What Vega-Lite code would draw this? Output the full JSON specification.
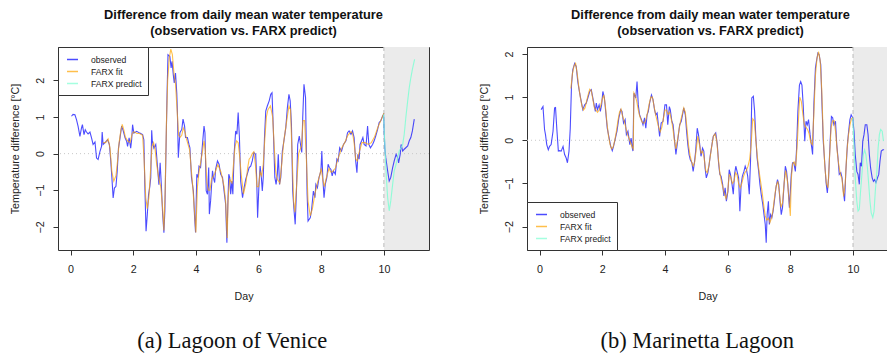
{
"$schema": "https://vega.github.io/schema/vega-lite/v6.json",
"background": "white",
"padding": {"left": 8, "top": 8, "right": 0, "bottom": 0},
"config": {
 "view": {"stroke": "#333", "strokeWidth": 1},
 "axis": {"domain": false, "grid": false, "tickColor": "#333", "tickSize": 5, "labelFont": "Liberation Sans", "labelFontSize": 10.7, "labelColor": "#222", "titleFont": "Liberation Sans", "titleFontSize": 10.7, "titleFontWeight": "normal", "titleColor": "#222"},
 "title": {"font": "Liberation Sans"}
},
"datasets": {
 "shade": [{"x0": 10, "x1": 12, "y0": 0}],
 "a_obs": [
 {"d":0.03,"v":1.02},{"d":0.08,"v":1.07},{"d":0.14,"v":1.06},{"d":0.19,"v":0.93},{"d":0.24,"v":0.75},{"d":0.30,"v":0.47},{"d":0.35,"v":0.70},{"d":0.38,"v":0.79},{"d":0.43,"v":0.52},{"d":0.47,"v":0.65},{"d":0.51,"v":0.59},{"d":0.56,"v":0.54},{"d":0.62,"v":0.59},{"d":0.67,"v":0.43},{"d":0.72,"v":0.25},{"d":0.78,"v":0.32},{"d":0.83,"v":-0.12},{"d":0.88,"v":-0.16},{"d":0.94,"v":0.06},{"d":0.99,"v":0.20},{"d":1.01,"v":0.59},{"d":1.04,"v":0.25},{"d":1.12,"v":0.32},{"d":1.18,"v":0.38},{"d":1.24,"v":0.25},{"d":1.28,"v":-0.16},{"d":1.32,"v":-0.66},{"d":1.36,"v":-1.21},{"d":1.40,"v":-0.94},{"d":1.45,"v":-0.89},{"d":1.49,"v":-0.48},{"d":1.53,"v":0.15},{"d":1.58,"v":0.43},{"d":1.63,"v":0.75},{"d":1.68,"v":0.63},{"d":1.74,"v":0.43},{"d":1.79,"v":0.34},{"d":1.82,"v":0.20},{"d":1.87,"v":0.43},{"d":1.92,"v":0.15},{"d":1.95,"v":0.38},{"d":1.98,"v":0.79},{"d":2.02,"v":0.56},{"d":2.11,"v":0.61},{"d":2.21,"v":0.56},{"d":2.30,"v":0.52},{"d":2.34,"v":0.38},{"d":2.37,"v":-0.85},{"d":2.41,"v":-2.12},{"d":2.45,"v":-1.66},{"d":2.49,"v":-1.12},{"d":2.53,"v":-0.9},{"d":2.56,"v":-0.66},{"d":2.59,"v":0.64},{"d":2.61,"v":0.34},{"d":2.66,"v":0.15},{"d":2.72,"v":0.25},{"d":2.77,"v":-0.30},{"d":2.82,"v":-0.85},{"d":2.86,"v":-0.25},{"d":2.90,"v":-0.9},{"d":2.94,"v":-1.66},{"d":2.98,"v":-2.16},{"d":3.01,"v":-1.57},{"d":3.05,"v":0.25},{"d":3.08,"v":1.61},{"d":3.11,"v":2.70},{"d":3.17,"v":2.65},{"d":3.21,"v":2.34},{"d":3.24,"v":2.52},{"d":3.28,"v":2.15},{"d":3.31,"v":1.93},{"d":3.35,"v":2.2},{"d":3.39,"v":1.66},{"d":3.41,"v":1.15},{"d":3.44,"v":-0.11},{"d":3.49,"v":0.57},{"d":3.55,"v":0.66},{"d":3.59,"v":0.94},{"d":3.64,"v":0.75},{"d":3.67,"v":0.44},{"d":3.73,"v":0.44},{"d":3.78,"v":0.25},{"d":3.81,"v":0.16},{"d":3.86,"v":-0.65},{"d":3.92,"v":-1.02},{"d":3.96,"v":-1.75},{"d":3.99,"v":-2.15},{"d":4.03,"v":-0.56},{"d":4.07,"v":-0.65},{"d":4.10,"v":-0.34},{"d":4.15,"v":-0.38},{"d":4.21,"v":0.25},{"d":4.26,"v":0.75},{"d":4.29,"v":0.57},{"d":4.33,"v":-1.02},{"d":4.37,"v":-1.11},{"d":4.41,"v":-0.38},{"d":4.43,"v":-1.65},{"d":4.47,"v":-1.29},{"d":4.53,"v":-0.47},{"d":4.56,"v":-0.65},{"d":4.60,"v":-0.79},{"d":4.63,"v":-0.43},{"d":4.69,"v":-0.2},{"d":4.74,"v":-0.29},{"d":4.79,"v":-0.56},{"d":4.85,"v":-0.65},{"d":4.90,"v":-1.02},{"d":4.95,"v":-1.38},{"d":4.99,"v":-2.43},{"d":5.02,"v":-1.38},{"d":5.05,"v":-0.56},{"d":5.08,"v":-0.65},{"d":5.11,"v":-1.11},{"d":5.15,"v":-0.75},{"d":5.18,"v":-1.11},{"d":5.22,"v":-0.02},{"d":5.27,"v":0.62},{"d":5.31,"v":0.53},{"d":5.35,"v":1.12},{"d":5.39,"v":0.44},{"d":5.43,"v":-0.75},{"d":5.49,"v":-1.2},{"d":5.54,"v":-0.93},{"d":5.59,"v":-0.7},{"d":5.64,"v":-0.56},{"d":5.70,"v":-0.38},{"d":5.75,"v":-0.34},{"d":5.80,"v":-0.2},{"d":5.85,"v":0.03},{"d":5.91,"v":-0.02},{"d":5.94,"v":-0.65},{"d":5.97,"v":-1.75},{"d":6.01,"v":-0.93},{"d":6.05,"v":-0.34},{"d":6.09,"v":-0.65},{"d":6.12,"v":-1.02},{"d":6.15,"v":-0.65},{"d":6.19,"v":0.44},{"d":6.23,"v":1.16},{"d":6.28,"v":1.3},{"d":6.34,"v":1.44},{"d":6.39,"v":1.62},{"d":6.43,"v":1.66},{"d":6.47,"v":0.71},{"d":6.52,"v":-0.65},{"d":6.56,"v":-0.84},{"d":6.60,"v":-0.56},{"d":6.63,"v":-0.02},{"d":6.67,"v":-0.84},{"d":6.71,"v":-0.65},{"d":6.76,"v":0.07},{"d":6.81,"v":0.35},{"d":6.87,"v":0.71},{"d":6.92,"v":1.25},{"d":6.97,"v":1.62},{"d":7.01,"v":1.44},{"d":7.05,"v":0.8},{"d":7.09,"v":-1.02},{"d":7.13,"v":-1.52},{"d":7.17,"v":-1.93},{"d":7.21,"v":-1.02},{"d":7.25,"v":0.25},{"d":7.30,"v":0.48},{"d":7.34,"v":0.25},{"d":7.38,"v":0.03},{"d":7.41,"v":0.98},{"d":7.45,"v":1.89},{"d":7.50,"v":1.53},{"d":7.52,"v":0.4},{"d":7.55,"v":-1.1},{"d":7.58,"v":-1.84},{"d":7.65,"v":-1.75},{"d":7.69,"v":-1.56},{"d":7.75,"v":-1.02},{"d":7.80,"v":-1.2},{"d":7.83,"v":-0.84},{"d":7.88,"v":-0.93},{"d":7.93,"v":-0.65},{"d":7.99,"v":-0.47},{"d":8.02,"v":0.07},{"d":8.05,"v":-0.65},{"d":8.09,"v":-1.2},{"d":8.13,"v":-0.84},{"d":8.18,"v":-0.65},{"d":8.22,"v":-0.29},{"d":8.26,"v":-0.38},{"d":8.31,"v":-0.43},{"d":8.35,"v":-0.61},{"d":8.39,"v":-0.47},{"d":8.45,"v":-0.56},{"d":8.50,"v":-0.15},{"d":8.54,"v":-0.2},{"d":8.59,"v":0.16},{"d":8.65,"v":0.07},{"d":8.71,"v":0.25},{"d":8.79,"v":0.35},{"d":8.84,"v":0.57},{"d":8.89,"v":0.62},{"d":8.95,"v":0.53},{"d":9.00,"v":0.62},{"d":9.05,"v":0.44},{"d":9.10,"v":-0.2},{"d":9.14,"v":-0.52},{"d":9.17,"v":-0.02},{"d":9.21,"v":-0.15},{"d":9.24,"v":0.25},{"d":9.29,"v":0.35},{"d":9.33,"v":0.44},{"d":9.37,"v":0.25},{"d":9.43,"v":0.21},{"d":9.48,"v":0.75},{"d":9.52,"v":0.25},{"d":9.57,"v":0.16},{"d":9.64,"v":0.25},{"d":9.69,"v":0.35},{"d":9.74,"v":0.48},{"d":9.80,"v":0.66},{"d":9.85,"v":0.85},{"d":9.90,"v":0.89},{"d":9.96,"v":1.03},{"d":9.99,"v":1.07},{"d":10.03,"v":0.16},{"d":10.06,"v":-0.11},{"d":10.12,"v":-0.47},{"d":10.17,"v":-0.75},{"d":10.22,"v":-0.65},{"d":10.28,"v":-0.38},{"d":10.33,"v":-0.2},{"d":10.39,"v":-0.02},{"d":10.44,"v":-0.11},{"d":10.47,"v":-0.25},{"d":10.52,"v":-0.02},{"d":10.55,"v":0.25},{"d":10.60,"v":0.07},{"d":10.65,"v":0.12},{"d":10.70,"v":0.16},{"d":10.76,"v":0.21},{"d":10.81,"v":0.35},{"d":10.86,"v":0.44},{"d":10.91,"v":0.62},{"d":10.97,"v":0.94}
 ],
 "a_fit": [
 {"d":1.04,"v":0.3},{"d":1.12,"v":0.3},{"d":1.2,"v":0.4},{"d":1.26,"v":0.15},{"d":1.32,"v":-0.5},{"d":1.38,"v":-0.75},{"d":1.45,"v":-0.6},{"d":1.5,"v":-0.2},{"d":1.55,"v":0.3},{"d":1.6,"v":0.6},{"d":1.65,"v":0.8},{"d":1.7,"v":0.65},{"d":1.75,"v":0.45},{"d":1.82,"v":0.35},{"d":1.9,"v":0.3},{"d":1.97,"v":0.55},{"d":2.02,"v":0.6},{"d":2.12,"v":0.55},{"d":2.2,"v":0.55},{"d":2.3,"v":0.5},{"d":2.35,"v":-0.2},{"d":2.4,"v":-1.2},{"d":2.45,"v":-1.5},{"d":2.5,"v":-1.2},{"d":2.55,"v":-0.5},{"d":2.6,"v":0.2},{"d":2.65,"v":0.3},{"d":2.7,"v":0.1},{"d":2.75,"v":-0.3},{"d":2.82,"v":-0.7},{"d":2.88,"v":-0.9},{"d":2.94,"v":-1.5},{"d":2.98,"v":-2.1},{"d":3.02,"v":-1.0},{"d":3.06,"v":0.8},{"d":3.1,"v":2.0},{"d":3.15,"v":2.6},{"d":3.2,"v":2.85},{"d":3.25,"v":2.7},{"d":3.3,"v":2.2},{"d":3.35,"v":1.9},{"d":3.4,"v":1.2},{"d":3.45,"v":0.5},{"d":3.5,"v":0.45},{"d":3.55,"v":0.5},{"d":3.6,"v":0.7},{"d":3.65,"v":0.6},{"d":3.7,"v":0.4},{"d":3.8,"v":0.1},{"d":3.85,"v":-0.4},{"d":3.9,"v":-0.9},{"d":3.95,"v":-1.5},{"d":4.0,"v":-2.15},{"d":4.05,"v":-0.9},{"d":4.1,"v":-0.5},{"d":4.2,"v":0.0},{"d":4.26,"v":0.35},{"d":4.3,"v":0.1},{"d":4.35,"v":-0.8},{"d":4.4,"v":-1.0},{"d":4.45,"v":-1.0},{"d":4.5,"v":-0.7},{"d":4.6,"v":-0.55},{"d":4.7,"v":-0.3},{"d":4.8,"v":-0.5},{"d":4.9,"v":-0.9},{"d":4.95,"v":-1.3},{"d":5.0,"v":-2.3},{"d":5.03,"v":-1.2},{"d":5.08,"v":-0.7},{"d":5.15,"v":-0.8},{"d":5.2,"v":-0.3},{"d":5.25,"v":0.2},{"d":5.3,"v":0.35},{"d":5.35,"v":0.3},{"d":5.4,"v":-0.1},{"d":5.45,"v":-0.6},{"d":5.52,"v":-1.1},{"d":5.6,"v":-0.8},{"d":5.65,"v":-0.4},{"d":5.7,"v":-0.15},{"d":5.75,"v":-0.1},{"d":5.8,"v":0.0},{"d":5.85,"v":0.05},{"d":5.9,"v":-0.3},{"d":5.95,"v":-0.9},{"d":6.0,"v":-0.9},{"d":6.05,"v":-0.5},{"d":6.1,"v":-0.6},{"d":6.15,"v":-0.3},{"d":6.2,"v":0.4},{"d":6.25,"v":1.0},{"d":6.3,"v":1.2},{"d":6.38,"v":1.3},{"d":6.45,"v":1.0},{"d":6.5,"v":0.2},{"d":6.55,"v":-0.5},{"d":6.6,"v":-0.7},{"d":6.68,"v":-0.8},{"d":6.75,"v":-0.2},{"d":6.8,"v":0.3},{"d":6.9,"v":0.9},{"d":6.97,"v":1.3},{"d":7.02,"v":1.2},{"d":7.07,"v":0.0},{"d":7.12,"v":-1.3},{"d":7.16,"v":-1.6},{"d":7.22,"v":-0.8},{"d":7.28,"v":0.0},{"d":7.32,"v":0.1},{"d":7.37,"v":0.2},{"d":7.42,"v":0.9},{"d":7.47,"v":0.9},{"d":7.52,"v":0.0},{"d":7.58,"v":-1.3},{"d":7.65,"v":-1.7},{"d":7.72,"v":-1.5},{"d":7.8,"v":-1.1},{"d":7.88,"v":-0.8},{"d":7.95,"v":-0.6},{"d":8.0,"v":-0.4},{"d":8.05,"v":-0.7},{"d":8.1,"v":-0.9},{"d":8.15,"v":-0.7},{"d":8.25,"v":-0.4},{"d":8.3,"v":-0.5},{"d":8.35,"v":-0.5},{"d":8.45,"v":-0.4},{"d":8.55,"v":-0.1},{"d":8.65,"v":0.15},{"d":8.75,"v":0.3},{"d":8.85,"v":0.5},{"d":8.95,"v":0.6},{"d":9.0,"v":0.55},{"d":9.05,"v":0.3},{"d":9.1,"v":-0.15},{"d":9.15,"v":-0.2},{"d":9.2,"v":0.0},{"d":9.3,"v":0.3},{"d":9.4,"v":0.3},{"d":9.5,"v":0.25},{"d":9.6,"v":0.3},{"d":9.7,"v":0.45},{"d":9.8,"v":0.7},{"d":9.9,"v":0.9},{"d":10.0,"v":1.1}
 ],
 "a_pred": [
 {"d":9.99,"v":1.07},{"d":10.03,"v":0.25},{"d":10.08,"v":-0.65},{"d":10.12,"v":-1.2},{"d":10.17,"v":-1.56},{"d":10.22,"v":-1.29},{"d":10.28,"v":-0.84},{"d":10.33,"v":-0.47},{"d":10.39,"v":-0.29},{"d":10.44,"v":-0.11},{"d":10.49,"v":0.07},{"d":10.55,"v":0.16},{"d":10.60,"v":0.25},{"d":10.65,"v":0.53},{"d":10.70,"v":0.98},{"d":10.76,"v":1.44},{"d":10.81,"v":1.8},{"d":10.86,"v":2.07},{"d":10.91,"v":2.3},{"d":10.98,"v":2.57}
 ],
 "b_obs": [
 {"d":0.05,"v":0.71},{"d":0.11,"v":0.78},{"d":0.16,"v":0.25},{"d":0.19,"v":0.13},{"d":0.23,"v":-0.1},{"d":0.28,"v":-0.22},{"d":0.32,"v":-0.14},{"d":0.37,"v":-0.1},{"d":0.43,"v":0.21},{"d":0.48,"v":0.75},{"d":0.51,"v":0.76},{"d":0.55,"v":0.28},{"d":0.60,"v":-0.25},{"d":0.64,"v":-0.24},{"d":0.69,"v":-0.25},{"d":0.75,"v":-0.14},{"d":0.80,"v":-0.33},{"d":0.85,"v":-0.41},{"d":0.89,"v":-0.52},{"d":0.94,"v":-0.25},{"d":0.98,"v":0.28},{"d":1.02,"v":1.28},{"d":1.06,"v":1.63},{"d":1.12,"v":1.78},{"d":1.17,"v":1.71},{"d":1.22,"v":1.36},{"d":1.28,"v":1.09},{"d":1.33,"v":0.9},{"d":1.38,"v":0.71},{"d":1.44,"v":0.82},{"d":1.49,"v":0.86},{"d":1.54,"v":0.98},{"d":1.60,"v":1.13},{"d":1.65,"v":1.17},{"d":1.70,"v":0.98},{"d":1.74,"v":0.82},{"d":1.78,"v":0.67},{"d":1.81,"v":0.86},{"d":1.85,"v":0.71},{"d":1.90,"v":0.82},{"d":1.94,"v":0.67},{"d":1.98,"v":0.82},{"d":2.02,"v":1.13},{"d":2.07,"v":0.98},{"d":2.11,"v":0.67},{"d":2.16,"v":0.28},{"d":2.22,"v":0.05},{"d":2.27,"v":-0.14},{"d":2.32,"v":-0.24},{"d":2.36,"v":-0.14},{"d":2.42,"v":0.05},{"d":2.47,"v":0.21},{"d":2.53,"v":0.52},{"d":2.59,"v":0.71},{"d":2.63,"v":0.67},{"d":2.68,"v":0.4},{"d":2.73,"v":0.48},{"d":2.77,"v":0.13},{"d":2.82,"v":0.21},{"d":2.88,"v":-0.1},{"d":2.92,"v":0.05},{"d":2.96,"v":-0.18},{"d":2.98,"v":-0.25},{"d":3.01,"v":1.09},{"d":3.07,"v":0.98},{"d":3.11,"v":1.36},{"d":3.15,"v":0.82},{"d":3.19,"v":0.59},{"d":3.25,"v":0.48},{"d":3.30,"v":0.36},{"d":3.35,"v":0.52},{"d":3.39,"v":0.28},{"d":3.43,"v":0.59},{"d":3.47,"v":0.67},{"d":3.51,"v":0.86},{"d":3.57,"v":1.05},{"d":3.62,"v":0.94},{"d":3.67,"v":0.7},{"d":3.71,"v":0.59},{"d":3.75,"v":0.63},{"d":3.79,"v":0.36},{"d":3.83,"v":0.09},{"d":3.88,"v":0.4},{"d":3.94,"v":0.44},{"d":4.00,"v":0.82},{"d":4.05,"v":0.82},{"d":4.09,"v":0.36},{"d":4.14,"v":0.78},{"d":4.17,"v":0.71},{"d":4.22,"v":0.44},{"d":4.26,"v":0.36},{"d":4.30,"v":0.05},{"d":4.35,"v":-0.33},{"d":4.39,"v":-0.1},{"d":4.43,"v":0.13},{"d":4.47,"v":0.36},{"d":4.52,"v":0.44},{"d":4.56,"v":0.59},{"d":4.60,"v":0.75},{"d":4.65,"v":0.59},{"d":4.69,"v":0.21},{"d":4.73,"v":-0.1},{"d":4.77,"v":-0.33},{"d":4.81,"v":-0.45},{"d":4.86,"v":-0.52},{"d":4.90,"v":-0.72},{"d":4.94,"v":-0.52},{"d":4.98,"v":-0.25},{"d":5.03,"v":0.28},{"d":5.07,"v":0.13},{"d":5.11,"v":-0.1},{"d":5.15,"v":-0.37},{"d":5.20,"v":-0.18},{"d":5.24,"v":-0.25},{"d":5.28,"v":-0.64},{"d":5.32,"v":-0.87},{"d":5.37,"v":-0.75},{"d":5.41,"v":-0.56},{"d":5.45,"v":-0.33},{"d":5.50,"v":-0.1},{"d":5.54,"v":0.09},{"d":5.58,"v":0.13},{"d":5.62,"v":0.17},{"d":5.67,"v":-0.1},{"d":5.71,"v":-0.52},{"d":5.75,"v":-0.79},{"d":5.79,"v":-0.83},{"d":5.84,"v":-1.02},{"d":5.88,"v":-1.29},{"d":5.92,"v":-1.1},{"d":5.96,"v":-1.41},{"d":6.01,"v":-1.18},{"d":6.05,"v":-0.68},{"d":6.09,"v":-0.79},{"d":6.14,"v":-1.02},{"d":6.18,"v":-1.25},{"d":6.22,"v":-0.79},{"d":6.26,"v":-0.6},{"d":6.30,"v":-0.72},{"d":6.35,"v":-0.87},{"d":6.39,"v":-1.64},{"d":6.43,"v":-1.02},{"d":6.47,"v":-0.83},{"d":6.52,"v":-0.72},{"d":6.56,"v":-0.6},{"d":6.60,"v":-0.68},{"d":6.64,"v":-0.83},{"d":6.69,"v":-1.25},{"d":6.73,"v":-0.48},{"d":6.77,"v":0.98},{"d":6.82,"v":1.02},{"d":6.86,"v":0.67},{"d":6.90,"v":0.05},{"d":6.94,"v":-0.41},{"d":6.99,"v":-0.72},{"d":7.03,"v":-1.02},{"d":7.07,"v":-1.25},{"d":7.12,"v":-1.48},{"d":7.16,"v":-1.72},{"d":7.20,"v":-1.95},{"d":7.23,"v":-2.37},{"d":7.26,"v":-1.72},{"d":7.30,"v":-1.41},{"d":7.33,"v":-1.95},{"d":7.37,"v":-1.72},{"d":7.41,"v":-1.79},{"d":7.45,"v":-1.64},{"d":7.49,"v":-1.41},{"d":7.54,"v":-1.1},{"d":7.59,"v":-0.91},{"d":7.63,"v":-1.02},{"d":7.67,"v":-1.41},{"d":7.71,"v":-1.72},{"d":7.75,"v":-1.56},{"d":7.80,"v":-1.02},{"d":7.84,"v":-0.6},{"d":7.88,"v":-0.72},{"d":7.92,"v":-1.02},{"d":7.97,"v":-1.56},{"d":8.00,"v":-1.18},{"d":8.03,"v":-0.79},{"d":8.07,"v":-0.52},{"d":8.11,"v":-0.52},{"d":8.16,"v":-0.72},{"d":8.20,"v":-0.18},{"d":8.24,"v":0.67},{"d":8.29,"v":1.28},{"d":8.33,"v":1.36},{"d":8.37,"v":1.28},{"d":8.41,"v":0.82},{"d":8.46,"v":-0.02},{"d":8.50,"v":0.44},{"d":8.54,"v":0.36},{"d":8.58,"v":0.48},{"d":8.63,"v":0.13},{"d":8.67,"v":-0.1},{"d":8.71,"v":-0.33},{"d":8.75,"v":0.82},{"d":8.80,"v":1.67},{"d":8.84,"v":1.86},{"d":8.88,"v":2.02},{"d":8.92,"v":1.98},{"d":8.97,"v":1.75},{"d":9.01,"v":0.82},{"d":9.05,"v":-0.02},{"d":9.10,"v":-0.56},{"d":9.14,"v":-0.98},{"d":9.18,"v":-1.22},{"d":9.22,"v":-0.87},{"d":9.27,"v":-0.02},{"d":9.31,"v":0.55},{"d":9.35,"v":0.52},{"d":9.39,"v":0.36},{"d":9.44,"v":0.44},{"d":9.48,"v":-0.1},{"d":9.52,"v":-0.41},{"d":9.56,"v":-0.79},{"d":9.61,"v":-0.75},{"d":9.65,"v":-0.87},{"d":9.69,"v":-1.18},{"d":9.73,"v":-1.41},{"d":9.77,"v":-0.72},{"d":9.82,"v":-0.1},{"d":9.86,"v":0.21},{"d":9.90,"v":0.48},{"d":9.94,"v":0.59},{"d":9.99,"v":0.52},{"d":10.03,"v":0.21},{"d":10.07,"v":-0.33},{"d":10.12,"v":-0.72},{"d":10.16,"v":-0.79},{"d":10.20,"v":-1.02},{"d":10.23,"v":-0.52},{"d":10.27,"v":-0.6},{"d":10.31,"v":-0.02},{"d":10.35,"v":0.13},{"d":10.39,"v":0.36},{"d":10.44,"v":0.36},{"d":10.48,"v":0.13},{"d":10.52,"v":-0.33},{"d":10.56,"v":-0.64},{"d":10.61,"v":-0.87},{"d":10.65,"v":-0.95},{"d":10.69,"v":-0.91},{"d":10.73,"v":-0.98},{"d":10.78,"v":-0.87},{"d":10.82,"v":-0.79},{"d":10.86,"v":-0.48},{"d":10.90,"v":-0.25},{"d":10.95,"v":-0.22},{"d":10.99,"v":-0.22}
 ],
 "b_fit": [
 {"d":1.0,"v":1.2},{"d":1.05,"v":1.55},{"d":1.1,"v":1.72},{"d":1.15,"v":1.78},{"d":1.2,"v":1.55},{"d":1.25,"v":1.25},{"d":1.3,"v":1.0},{"d":1.35,"v":0.8},{"d":1.4,"v":0.7},{"d":1.45,"v":0.75},{"d":1.5,"v":0.9},{"d":1.55,"v":1.05},{"d":1.6,"v":1.18},{"d":1.65,"v":1.15},{"d":1.7,"v":0.95},{"d":1.75,"v":0.75},{"d":1.8,"v":0.7},{"d":1.85,"v":0.65},{"d":1.9,"v":0.7},{"d":1.95,"v":0.8},{"d":2.0,"v":0.95},{"d":2.05,"v":1.05},{"d":2.1,"v":0.8},{"d":2.15,"v":0.4},{"d":2.2,"v":0.1},{"d":2.25,"v":-0.1},{"d":2.3,"v":-0.2},{"d":2.35,"v":-0.15},{"d":2.4,"v":0.0},{"d":2.45,"v":0.2},{"d":2.5,"v":0.45},{"d":2.55,"v":0.65},{"d":2.6,"v":0.72},{"d":2.65,"v":0.55},{"d":2.7,"v":0.45},{"d":2.75,"v":0.3},{"d":2.8,"v":0.15},{"d":2.85,"v":0.05},{"d":2.9,"v":-0.05},{"d":2.95,"v":-0.15},{"d":2.99,"v":-0.2},{"d":3.01,"v":1.1},{"d":3.05,"v":1.05},{"d":3.1,"v":0.9},{"d":3.15,"v":0.7},{"d":3.2,"v":0.55},{"d":3.25,"v":0.45},{"d":3.3,"v":0.4},{"d":3.35,"v":0.4},{"d":3.4,"v":0.5},{"d":3.45,"v":0.65},{"d":3.5,"v":0.85},{"d":3.55,"v":1.0},{"d":3.6,"v":1.0},{"d":3.65,"v":0.8},{"d":3.7,"v":0.6},{"d":3.75,"v":0.45},{"d":3.8,"v":0.3},{"d":3.85,"v":0.2},{"d":3.9,"v":0.3},{"d":3.95,"v":0.5},{"d":4.0,"v":0.7},{"d":4.05,"v":0.7},{"d":4.1,"v":0.6},{"d":4.15,"v":0.65},{"d":4.2,"v":0.5},{"d":4.25,"v":0.3},{"d":4.3,"v":0.0},{"d":4.35,"v":-0.2},{"d":4.4,"v":0.0},{"d":4.45,"v":0.25},{"d":4.5,"v":0.45},{"d":4.55,"v":0.6},{"d":4.6,"v":0.75},{"d":4.65,"v":0.65},{"d":4.7,"v":0.3},{"d":4.75,"v":-0.1},{"d":4.8,"v":-0.35},{"d":4.85,"v":-0.5},{"d":4.9,"v":-0.6},{"d":4.95,"v":-0.5},{"d":5.0,"v":-0.2},{"d":5.05,"v":0.1},{"d":5.1,"v":-0.1},{"d":5.15,"v":-0.3},{"d":5.2,"v":-0.25},{"d":5.25,"v":-0.4},{"d":5.3,"v":-0.7},{"d":5.35,"v":-0.75},{"d":5.4,"v":-0.6},{"d":5.45,"v":-0.35},{"d":5.5,"v":-0.1},{"d":5.55,"v":0.1},{"d":5.6,"v":0.15},{"d":5.65,"v":0.0},{"d":5.7,"v":-0.4},{"d":5.75,"v":-0.75},{"d":5.8,"v":-0.95},{"d":5.85,"v":-1.1},{"d":5.9,"v":-1.25},{"d":5.95,"v":-1.35},{"d":6.0,"v":-1.2},{"d":6.05,"v":-0.8},{"d":6.1,"v":-0.85},{"d":6.15,"v":-1.0},{"d":6.2,"v":-0.95},{"d":6.25,"v":-0.75},{"d":6.3,"v":-0.8},{"d":6.35,"v":-1.0},{"d":6.4,"v":-1.1},{"d":6.45,"v":-1.0},{"d":6.5,"v":-0.85},{"d":6.55,"v":-0.75},{"d":6.6,"v":-0.7},{"d":6.65,"v":-0.6},{"d":6.7,"v":-0.45},{"d":6.75,"v":-0.1},{"d":6.8,"v":0.5},{"d":6.85,"v":0.45},{"d":6.9,"v":0.0},{"d":6.95,"v":-0.4},{"d":7.0,"v":-0.7},{"d":7.05,"v":-0.95},{"d":7.1,"v":-1.2},{"d":7.15,"v":-1.5},{"d":7.2,"v":-1.75},{"d":7.25,"v":-1.85},{"d":7.3,"v":-1.8},{"d":7.35,"v":-1.9},{"d":7.4,"v":-1.8},{"d":7.45,"v":-1.6},{"d":7.5,"v":-1.3},{"d":7.55,"v":-1.05},{"d":7.6,"v":-0.95},{"d":7.65,"v":-1.2},{"d":7.7,"v":-1.55},{"d":7.75,"v":-1.45},{"d":7.8,"v":-1.0},{"d":7.85,"v":-0.7},{"d":7.9,"v":-0.9},{"d":7.95,"v":-1.3},{"d":8.0,"v":-1.75},{"d":8.03,"v":-0.9},{"d":8.07,"v":-0.55},{"d":8.12,"v":-0.5},{"d":8.17,"v":-0.6},{"d":8.22,"v":-0.1},{"d":8.26,"v":0.5},{"d":8.3,"v":1.0},{"d":8.35,"v":0.9},{"d":8.4,"v":0.6},{"d":8.45,"v":0.35},{"d":8.5,"v":0.3},{"d":8.55,"v":0.25},{"d":8.6,"v":0.15},{"d":8.65,"v":-0.05},{"d":8.7,"v":-0.1},{"d":8.75,"v":0.6},{"d":8.8,"v":1.5},{"d":8.85,"v":1.9},{"d":8.9,"v":2.05},{"d":8.95,"v":1.85},{"d":9.0,"v":1.2},{"d":9.05,"v":0.1},{"d":9.1,"v":-0.6},{"d":9.15,"v":-1.0},{"d":9.2,"v":-1.1},{"d":9.25,"v":-0.4},{"d":9.3,"v":0.3},{"d":9.35,"v":0.45},{"d":9.4,"v":0.45},{"d":9.45,"v":0.15},{"d":9.5,"v":-0.3},{"d":9.55,"v":-0.6},{"d":9.6,"v":-0.8},{"d":9.65,"v":-0.9},{"d":9.7,"v":-1.3},{"d":9.75,"v":-1.0},{"d":9.8,"v":-0.3},{"d":9.85,"v":0.1},{"d":9.9,"v":0.35},{"d":9.95,"v":0.5},{"d":10.0,"v":0.52}
 ],
 "b_pred": [
 {"d":9.99,"v":0.52},{"d":10.03,"v":-0.1},{"d":10.07,"v":-0.87},{"d":10.12,"v":-1.41},{"d":10.16,"v":-1.64},{"d":10.20,"v":-1.6},{"d":10.24,"v":-1.18},{"d":10.29,"v":-0.72},{"d":10.33,"v":-0.33},{"d":10.37,"v":-0.22},{"d":10.41,"v":-0.33},{"d":10.46,"v":-0.64},{"d":10.50,"v":-1.02},{"d":10.54,"v":-1.41},{"d":10.58,"v":-1.68},{"d":10.63,"v":-1.79},{"d":10.67,"v":-1.64},{"d":10.71,"v":-1.18},{"d":10.76,"v":-0.72},{"d":10.80,"v":-0.18},{"d":10.84,"v":0.13},{"d":10.88,"v":0.25},{"d":10.93,"v":0.21},{"d":10.97,"v":-0.02}
 ]
},
"spacing": 47,
"resolve": {"scale": {"color": "independent", "x": "independent", "y": "independent"}, "legend": {"color": "independent"}},
"hconcat": [
 {
  "title": {"text": "(a) Lagoon of Venice", "orient": "bottom", "font": "Liberation Serif", "fontSize": 22.5, "fontWeight": "normal", "color": "#111", "offset": 29, "anchor": "middle", "dx": 13},
  "resolve": {"scale": {"color": "independent"}, "legend": {"color": "independent"}},
  "vconcat": [
   {
    "width": 371, "height": 203,
    "title": {"text": ["Difference from daily mean water temperature", "(observation vs. FARX predict)"], "fontSize": 12.8, "fontWeight": "bold", "color": "#111", "lineHeight": 16, "offset": 9, "anchor": "middle", "frame": "group"},
    "layer": [
     {"data": {"name": "shade"}, "mark": {"type": "rect", "color": "#ebebeb", "clip": true}, "encoding": {"x": {"field": "x0", "type": "quantitative", "scale": {"domain": [-0.40, 11.44], "nice": false, "zero": false}}, "x2": {"field": "x1"}}},
     {"data": {"name": "shade"}, "mark": {"type": "rule", "color": "#c4c4c4", "strokeDash": [4, 3], "strokeWidth": 1.2}, "encoding": {"x": {"field": "x0", "type": "quantitative"}}},
     {"data": {"name": "shade"}, "mark": {"type": "rule", "color": "#c8c8c8", "strokeDash": [1, 3], "strokeWidth": 1}, "encoding": {"y": {"field": "y0", "type": "quantitative"}}},
     {"data": {"name": "a_obs"}, "mark": {"type": "line", "strokeWidth": 1.1, "opacity": 0.7, "clip": true},
      "encoding": {
       "x": {"field": "d", "type": "quantitative", "scale": {"domain": [-0.40, 11.44], "nice": false, "zero": false}, "axis": {"values": [0, 2, 4, 6, 8, 10], "title": "Day", "labelPadding": 9.5, "titlePadding": 17}},
       "y": {"field": "v", "type": "quantitative", "scale": {"domain": [-2.63, 2.91], "nice": false, "zero": false}, "axis": {"values": [-2, -1, 0, 1, 2], "title": "Temperature difference [°C]", "labelAngle": -90, "labelAlign": "center", "labelBaseline": "bottom", "labelPadding": 8, "titlePadding": 14}},
       "color": {"datum": "observed", "type": "nominal", "scale": {"domain": ["observed", "FARX fit", "FARX predict"], "range": ["#0000ff", "#ffa500", "#7fffd4"]},
        "legend": {"title": null, "orient": "top-left", "offset": 0, "padding": 6, "strokeColor": "#333", "fillColor": "white", "symbolType": "stroke", "symbolSize": 121, "symbolStrokeWidth": 1.5, "symbolOpacity": 0.6, "labelFontSize": 8.6, "labelFont": "Liberation Sans", "labelColor": "#222", "rowPadding": 0, "labelOffset": 12, "symbolOffset": 2, "cornerRadius": 0}}
      }},
     {"data": {"name": "a_fit"}, "mark": {"type": "line", "strokeWidth": 1.1, "opacity": 0.7, "clip": true}, "encoding": {"x": {"field": "d", "type": "quantitative"}, "y": {"field": "v", "type": "quantitative"}, "color": {"datum": "FARX fit", "type": "nominal"}}},
     {"data": {"name": "a_pred"}, "mark": {"type": "line", "strokeWidth": 1.1, "opacity": 0.85, "clip": true}, "encoding": {"x": {"field": "d", "type": "quantitative"}, "y": {"field": "v", "type": "quantitative"}, "color": {"datum": "FARX predict", "type": "nominal"}}}
    ]
   }
  ]
 },
 {
  "title": {"text": "(b) Marinetta Lagoon", "orient": "bottom", "font": "Liberation Serif", "fontSize": 22.5, "fontWeight": "normal", "color": "#111", "offset": 29, "anchor": "middle", "dx": 14},
  "resolve": {"scale": {"color": "independent"}, "legend": {"color": "independent"}},
  "vconcat": [
   {
    "width": 361, "height": 203,
    "title": {"text": ["Difference from daily mean water temperature", "(observation vs. FARX predict)"], "fontSize": 12.8, "fontWeight": "bold", "color": "#111", "lineHeight": 16, "offset": 9, "anchor": "middle", "frame": "group", "dx": 3},
    "layer": [
     {"data": {"name": "shade"}, "mark": {"type": "rect", "color": "#ebebeb", "clip": true}, "encoding": {"x": {"field": "x0", "type": "quantitative", "scale": {"domain": [-0.40, 11.115], "nice": false, "zero": false}}, "x2": {"field": "x1"}}},
     {"data": {"name": "shade"}, "mark": {"type": "rule", "color": "#c4c4c4", "strokeDash": [4, 3], "strokeWidth": 1.2}, "encoding": {"x": {"field": "x0", "type": "quantitative"}}},
     {"data": {"name": "shade"}, "mark": {"type": "rule", "color": "#c8c8c8", "strokeDash": [1, 3], "strokeWidth": 1}, "encoding": {"y": {"field": "y0", "type": "quantitative"}}},
     {"data": {"name": "b_obs"}, "mark": {"type": "line", "strokeWidth": 1.1, "opacity": 0.7, "clip": true},
      "encoding": {
       "x": {"field": "d", "type": "quantitative", "scale": {"domain": [-0.40, 11.115], "nice": false, "zero": false}, "axis": {"values": [0, 2, 4, 6, 8, 10], "title": "Day", "labelPadding": 9.5, "titlePadding": 17}},
       "y": {"field": "v", "type": "quantitative", "scale": {"domain": [-2.54, 2.16], "nice": false, "zero": false}, "axis": {"values": [-2, -1, 0, 1, 2], "title": "Temperature difference [°C]", "labelAngle": -90, "labelAlign": "center", "labelBaseline": "bottom", "labelPadding": 8, "titlePadding": 14}},
       "color": {"datum": "observed", "type": "nominal", "scale": {"domain": ["observed", "FARX fit", "FARX predict"], "range": ["#0000ff", "#ffa500", "#7fffd4"]},
        "legend": {"title": null, "orient": "bottom-left", "offset": 0, "padding": 6, "strokeColor": "#333", "fillColor": "white", "symbolType": "stroke", "symbolSize": 121, "symbolStrokeWidth": 1.5, "symbolOpacity": 0.6, "labelFontSize": 8.6, "labelFont": "Liberation Sans", "labelColor": "#222", "rowPadding": 0, "labelOffset": 12, "symbolOffset": 2, "cornerRadius": 0}}
      }},
     {"data": {"name": "b_fit"}, "mark": {"type": "line", "strokeWidth": 1.1, "opacity": 0.7, "clip": true}, "encoding": {"x": {"field": "d", "type": "quantitative"}, "y": {"field": "v", "type": "quantitative"}, "color": {"datum": "FARX fit", "type": "nominal"}}},
     {"data": {"name": "b_pred"}, "mark": {"type": "line", "strokeWidth": 1.1, "opacity": 0.85, "clip": true}, "encoding": {"x": {"field": "d", "type": "quantitative"}, "y": {"field": "v", "type": "quantitative"}, "color": {"datum": "FARX predict", "type": "nominal"}}}
    ]
   }
  ]
 }
]
}
